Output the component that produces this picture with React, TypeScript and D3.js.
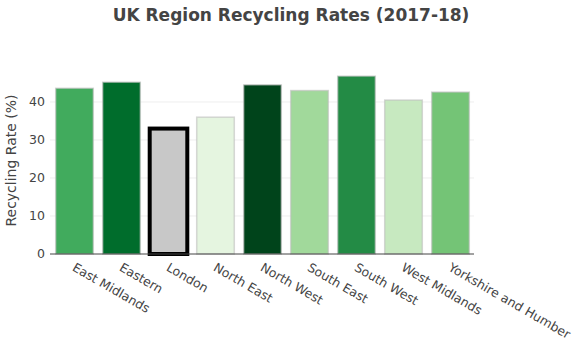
import React from "react";
import * as d3 from "d3";

const regions = ["East Midlands", "Eastern", "London", "North East", "North West", "South East", "South West", "West Midlands", "Yorkshire and Humber"];
const rates = [43.6, 45.2, 33.0, 36.0, 44.5, 43.0, 46.8, 40.5, 42.6];
const colors = ["#41ab5d", "#006d2c", "#c8c8c8", "#e5f5e0", "#00441b", "#a1d99b", "#238b45", "#c7e9c0", "#74c476"];
const yTicks = [0, 10, 20, 30, 40];

const W = 575, H = 359;
const left = 51, right = 474, top = 67, bottom = 254;
const font = "'DejaVu Sans', Verdana, sans-serif";

export default function App() {
  const x = d3.scaleBand().domain(regions).range([left, right]).paddingInner(0.2).paddingOuter(0.1);
  const y = d3.scaleLinear().domain([0, 49.2]).range([bottom, top]);
  return (
    <div style={{ position: "absolute", left: 0, top: 0 }}>
      <svg width={W} height={H} style={{ display: "block", background: "#fff" }}>
        <text x={291} y={21} textAnchor="middle" fontFamily={font} fontWeight="bold" fontSize={17} fill="#444">
          UK Region Recycling Rates (2017-18)
        </text>
        {yTicks.filter(t => t > 0).map(t => (
          <line key={t} x1={left - 1} x2={right} y1={y(t)} y2={y(t)} stroke="#eee" strokeWidth={1} />
        ))}
        {yTicks.map(t => (
          <text key={t} x={45} y={y(t)} dy="0.35em" textAnchor="end" fontFamily={font} fontSize={12.5} fill="#444">{t}</text>
        ))}
        <text transform={`translate(16,${(top + bottom) / 2}) rotate(-90)`} textAnchor="middle" fontFamily={font} fontSize={14} fill="#444">
          Recycling Rate (%)
        </text>
        {regions.map((r, i) => {
          const isLondon = r === "London";
          return (
            <rect key={r} x={x(r)!} y={y(rates[i])} width={x.bandwidth()} height={bottom - y(rates[i])}
              fill={colors[i]} stroke={isLondon ? "#000" : "rgba(190,190,190,0.6)"} strokeWidth={isLondon ? 4 : 1.5} />
          );
        })}
        <line x1={left - 1} x2={right} y1={bottom} y2={bottom} stroke="#444" strokeWidth={1} />
        {regions.map(r => {
          const cx = x(r)! + x.bandwidth() / 2;
          return (
            <text key={r} transform={`translate(${cx - 3},${bottom + 16}) rotate(30)`} textAnchor="start"
              fontFamily={font} fontSize={12.5} fill="#444">{r}</text>
          );
        })}
      </svg>
    </div>
  );
}
